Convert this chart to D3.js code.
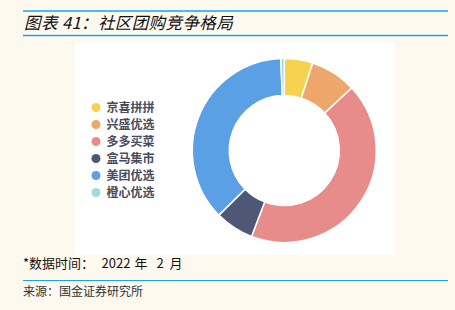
<!DOCTYPE html>
<html><head><meta charset="utf-8">
<script src="https://cdn.jsdelivr.net/npm/d3@7"></script>
<style>
html,body{margin:0;padding:0;background:#FDF9EF;}
svg{display:block;}
</style></head>
<body>
<script>
const categories = ["京喜拼拼","兴盛优选","多多买菜","盒马集市","美团优选","橙心优选"];
const values = [5.0, 8.1, 42.7, 6.8, 36.8, 0.6];
const colors = ["#F6D24E","#EDA76A","#E88C8B","#4E5876","#5B9FE5","#A0DCDD"];

const W = 455, H = 310;
const svg = d3.select("body").append("svg").attr("width", W).attr("height", H);
const font = "'Noto Sans CJK SC','Noto Sans',sans-serif";

svg.append("rect").attr("width", W).attr("height", H).attr("fill", "#FDF9EF");

// title rules
svg.append("line").attr("x1", 23).attr("x2", 448).attr("y1", 11).attr("y2", 11)
  .attr("stroke", "#1AA3E8").attr("stroke-width", 1.5);
svg.append("line").attr("x1", 23).attr("x2", 448).attr("y1", 35.5).attr("y2", 35.5)
  .attr("stroke", "#1AA3E8").attr("stroke-width", 1.5);
svg.append("text").attr("x", 24).attr("y", 28.5)
  .attr("font-family", font).attr("font-size", 16.5).attr("font-style", "italic")
  .attr("font-weight", 400).attr("fill", "#111").attr("letter-spacing", 0.4)
  .text("图表 41：社区团购竞争格局");

// white panel
svg.append("rect").attr("x", 75).attr("y", 42).attr("width", 320).attr("height", 213).attr("fill", "#fff");

// donut
const cx = 284.3, cy = 150.5, rO = 92, rI = 55;
const pie = d3.pie().sort(null).value(d => d)(values);
const arc = d3.arc().innerRadius(rI).outerRadius(rO);
const g = svg.append("g").attr("transform", `translate(${cx},${cy})`);
g.selectAll("path").data(pie).join("path")
  .attr("d", arc).attr("fill", (d, i) => colors[i])
  .attr("stroke", "#fff").attr("stroke-width", 1.5).attr("stroke-linejoin", "round");

// legend
const lg = svg.append("g");
categories.forEach((c, i) => {
  const y = 107.5 + i * 17;
  lg.append("circle").attr("cx", 96).attr("cy", y).attr("r", 4.5).attr("fill", colors[i]);
  lg.append("text").attr("x", 106.5).attr("y", y + 4.3)
    .attr("font-family", font).attr("font-size", 12).attr("font-weight", 700)
    .attr("fill", "#464C5E").text(c);
});

// footnotes
const fn = svg.append("text").attr("y", 268)
  .attr("font-family", font).attr("font-size", 13).attr("fill", "#111");
[["*数据时间：", 23], ["2022", 101.5], ["年", 134.5], ["2", 156.5], ["月", 169.5]].forEach(([t, x]) => {
  fn.append("tspan").attr("x", x).text(t);
});
svg.append("line").attr("x1", 23).attr("x2", 448).attr("y1", 280.5).attr("y2", 280.5)
  .attr("stroke", "#1AA3E8").attr("stroke-width", 1.2);
svg.append("text").attr("x", 23).attr("y", 296)
  .attr("font-family", font).attr("font-size", 12).attr("fill", "#333")
  .text("来源：国金证券研究所");
</script>
</body></html>
